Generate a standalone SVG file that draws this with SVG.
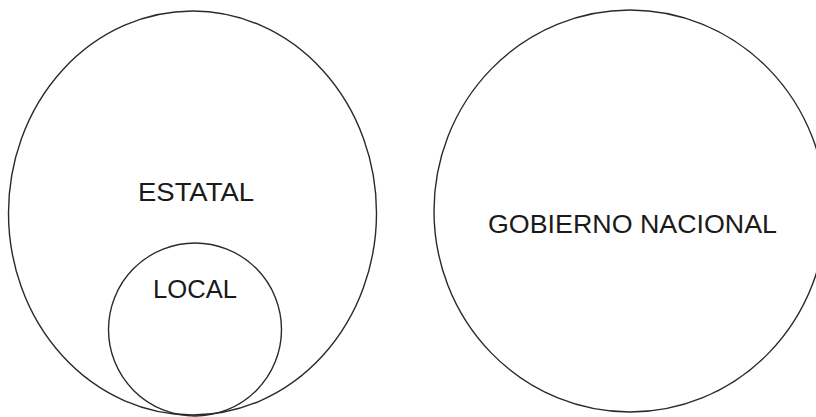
<svg xmlns="http://www.w3.org/2000/svg" width="816" height="417" viewBox="0 0 816 417">
  <style>
    .ring { fill: none; stroke: #2a2a2a; stroke-width: 1.4; }
    .lbl { font-family: "Liberation Sans", Arial, sans-serif; font-size: 25px; fill: #1a1a1a; text-anchor: middle; }
  </style>
  <rect width="816" height="417" fill="#ffffff"/>
  <g id="estatal">
    <ellipse class="ring" cx="192.5" cy="213" rx="184" ry="202"/>
    <text class="lbl" x="196" y="201" textLength="116" lengthAdjust="spacingAndGlyphs">ESTATAL</text>
  </g>
  <g id="local">
    <circle class="ring" cx="195" cy="329.5" r="86.5"/>
    <text class="lbl" x="195" y="298" textLength="84" lengthAdjust="spacingAndGlyphs">LOCAL</text>
  </g>
  <g id="gobierno-nacional">
    <ellipse class="ring" cx="630" cy="211" rx="196" ry="201"/>
    <text class="lbl" x="632.5" y="233" textLength="289" lengthAdjust="spacingAndGlyphs">GOBIERNO NACIONAL</text>
  </g>
  <g id="connectors"/>
</svg>
